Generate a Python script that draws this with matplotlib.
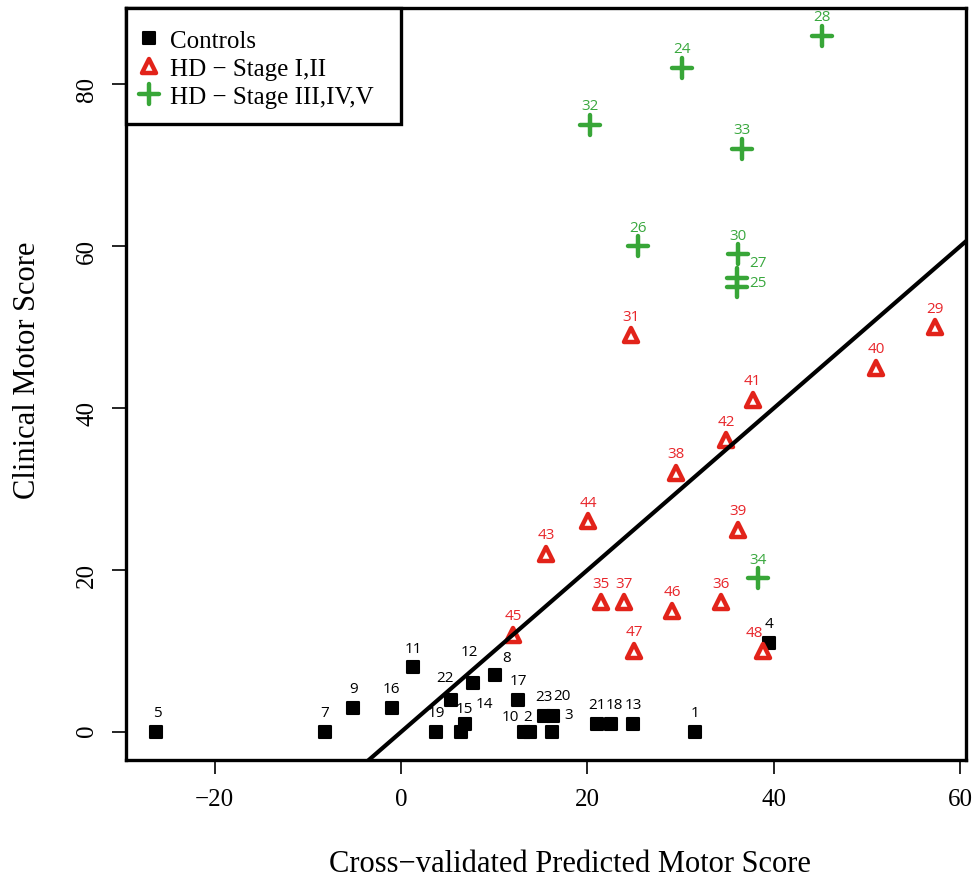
import matplotlib.pyplot as plt
from matplotlib.markers import MarkerStyle
from matplotlib.lines import Line2D
from matplotlib.patches import Rectangle

# controls
ctrl_id = [1, 2, 3, 4, 5, 7, 8, 9, 10, 11, 12, 13, 14, 15, 16, 17, 18, 19, 20, 21, 22, 23]
ctrl_pred = [31.5, 13.8, 16.2, 39.5, -26.3, -8.2, 10.1, -5.1, 13.2, 1.3, 7.7, 24.9, 6.9, 6.4,
             -1.0, 12.6, 22.5, 3.8, 16.3, 21.0, 5.4, 15.3]
ctrl_motor = [0, 0, 0, 11, 0, 0, 7, 3, 0, 8, 6, 1, 1, 0, 3, 4, 1, 0, 2, 1, 4, 2]

# HD stage I,II
early_id = [29, 31, 35, 36, 37, 38, 39, 40, 41, 42, 43, 44, 45, 46, 47, 48]
early_pred = [57.3, 24.7, 21.4, 34.3, 23.9, 29.5, 36.1, 51.0, 37.7, 34.9, 15.6, 20.1, 12.0,
              29.1, 25.0, 38.8]
early_motor = [50, 49, 16, 16, 16, 32, 25, 45, 41, 36, 22, 26, 12, 15, 10, 10]

# HD stage III,IV,V
late_id = [24, 25, 26, 27, 28, 30, 32, 33, 34]
late_pred = [30.1, 36.0, 25.4, 36.0, 45.2, 36.1, 20.3, 36.6, 38.3]
late_motor = [82, 55, 60, 56, 86, 59, 75, 72, 19]

# label nudges (pixels) where the id is not straight above its point
label_nudge = {5: (2, 19), 15: (4, 23), 14: (19, 20), 12: (-3, 32), 22: (-6, 22), 8: (11, 18),
               10: (-14, 15), 2: (-2, 15), 20: (9, 20), 3: (17, 17), 48: (-8, 18),
               21: (0, 19), 18: (4, 19), 27: (21, 16), 25: (21, 4)}

RED = "#e2231a"
GREEN = "#38a638"
serif = "Liberation Serif"
sans = "Open Sans"

fig = plt.figure(figsize=(9.78, 8.79), dpi=100)
ax = fig.add_axes([126 / 978, 1 - 761 / 879, 840 / 978, 752 / 879])

sq = MarkerStyle("s", joinstyle="round")
tri = MarkerStyle("^", joinstyle="round")
plus = MarkerStyle("+", capstyle="round")

ax.plot(ctrl_pred, ctrl_motor, ls="none", marker=sq, ms=9, mfc="black", mec="black", mew=1.5)
ax.plot(early_pred, early_motor, ls="none", marker=tri, ms=9.5, mfc="white", mec=RED, mew=3.2)
ax.plot(late_pred, late_motor, ls="none", marker=plus, ms=14, mec=GREEN, mew=3.2)

ax.axline((0, 0), slope=1, color="black", lw=3)

groups = [(ctrl_id, ctrl_pred, ctrl_motor, "black"),
          (early_id, early_pred, early_motor, "#e8262b"),
          (late_id, late_pred, late_motor, "#3aa83f")]
for ids, xs, ys, col in groups:
    for i, x, y in zip(ids, xs, ys):
        ax.annotate(str(i), (x, y), xytext=label_nudge.get(i, (0, 19)),
                    textcoords="offset pixels", ha="center", va="center",
                    fontsize=11, color=col, family=sans)

ax.set_xlim(-29.5, 60.6)
ax.set_ylim(-3.46, 89.4)
ax.set_xticks([-20, 0, 20, 40, 60])
ax.set_yticks([0, 20, 40, 60, 80])
ax.set_xticklabels(["\u221220", "0", "20", "40", "60"])
for s in ax.spines.values():
    s.set_linewidth(2.4)
ax.tick_params(length=10, width=1.2, pad=10, labelsize=18)
ax.tick_params(axis="y", labelrotation=90)
for lab in ax.get_xticklabels() + ax.get_yticklabels():
    lab.set_family(serif)

ax.set_xlabel("Cross\u2212validated Predicted Motor Score", family=serif, fontsize=22)
ax.set_ylabel("Clinical Motor Score", family=serif, fontsize=22)
ax.xaxis.set_label_coords(0.5286, -0.119)
ax.yaxis.set_label_coords(-0.1, 0.52)

# legend box drawn like R's, flush with the top-left corner
ax.add_patch(Rectangle((0, 0.846), 0.327, 0.154, transform=ax.transAxes, facecolor="white",
                       edgecolor="black", lw=2.4, zorder=5, clip_on=False))
handles = [Line2D([], [], ls="none", marker=sq, ms=9, mfc="black", mec="black", mew=1.5),
           Line2D([], [], ls="none", marker=tri, ms=9.5, mfc="white", mec=RED, mew=3.2),
           Line2D([], [], ls="none", marker=plus, ms=14, mec=GREEN, mew=3.2)]
labels = ["Controls", "HD \u2212 Stage I,II", "HD \u2212 Stage III,IV,V"]
leg = ax.legend(handles, labels, loc="upper left", bbox_to_anchor=(0.014, 0.972),
                frameon=False, borderpad=0, borderaxespad=0, handlelength=0.9,
                handletextpad=0.4, labelspacing=0.22, prop={"family": serif, "size": 18})
leg.set_zorder(6)

fig.savefig("out.png", dpi=100)
